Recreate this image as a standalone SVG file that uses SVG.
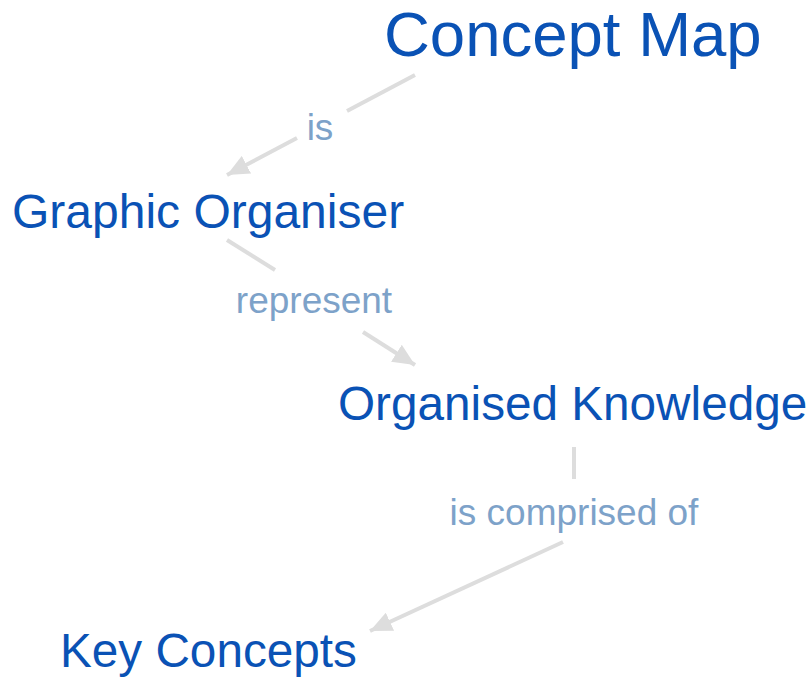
<svg xmlns="http://www.w3.org/2000/svg" width="812" height="678" viewBox="0 0 812 678">
<defs>
<style>
.node{font-family:"Liberation Sans",Arial,sans-serif;fill:#0a52b5;}
.lbl{font-family:"Liberation Sans",Arial,sans-serif;fill:#7da2c9;font-size:37px;}
.edge{stroke:#dddddd;stroke-width:4;fill:none;}
</style>
<marker id="arr" markerUnits="userSpaceOnUse" markerWidth="24" markerHeight="20" refX="22" refY="10" orient="auto">
<path d="M0,0 L22,10 L0,20 Z" fill="#dddddd"/>
</marker>
</defs>
<rect width="812" height="678" fill="#ffffff"/>
<g id="connectors">
<line class="edge" x1="415" y1="75" x2="347" y2="111"/>
<line class="edge" x1="297" y1="138" x2="227" y2="175" marker-end="url(#arr)"/>
<line class="edge" x1="227" y1="240" x2="275" y2="270"/>
<line class="edge" x1="363" y1="332" x2="415" y2="365" marker-end="url(#arr)"/>
<line class="edge" x1="574" y1="447" x2="574" y2="479"/>
<line class="edge" x1="563" y1="542" x2="370" y2="631" marker-end="url(#arr)"/>
</g>
<g id="labels">
<text class="lbl" x="320" y="140" text-anchor="middle">is</text>
<text class="lbl" x="314" y="313" text-anchor="middle">represent</text>
<text class="lbl" x="574" y="525" text-anchor="middle">is comprised of</text>
</g>
<g id="node-concept-map"><text class="node" x="384" y="56" font-size="63.5">Concept Map</text></g>
<g id="node-graphic-organiser"><text class="node" x="12" y="228" font-size="48">Graphic Organiser</text></g>
<g id="node-organised-knowledge"><text class="node" x="338" y="420" font-size="47.7">Organised Knowledge</text></g>
<g id="node-key-concepts"><text class="node" x="60" y="667" font-size="47.7">Key Concepts</text></g>
</svg>
